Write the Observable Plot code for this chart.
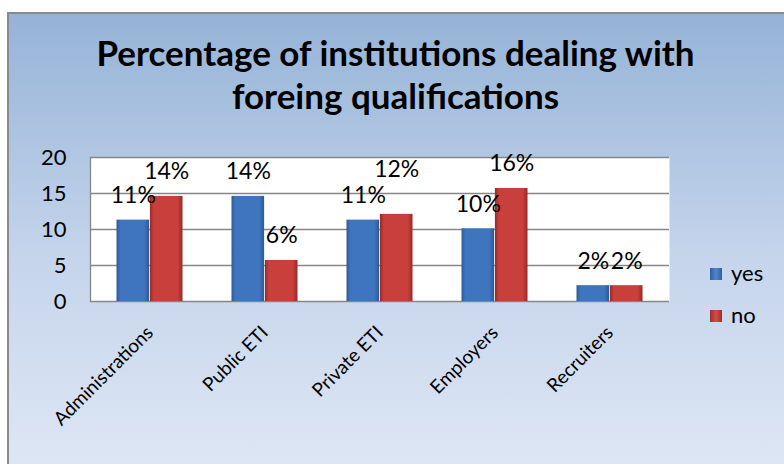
<!DOCTYPE html>
<html>
<head>
<meta charset="utf-8">
<script src="https://cdn.jsdelivr.net/npm/d3@7"></script>
<script src="https://cdn.jsdelivr.net/npm/@observablehq/plot@0.6"></script>
<style>
  html, body { margin: 0; padding: 0; width: 784px; height: 464px; overflow: hidden; background: #ffffff; font-family: Lato, "Open Sans", sans-serif; }
  #frame { position: absolute; left: 7px; top: 12px; width: 777px; height: 452px; box-sizing: border-box;
           border-left: 2px solid #8a8a8a; border-top: 2px solid #8a8a8a;
           background: linear-gradient(to bottom, #95b3d7 0%, #c6d5ec 55%, #dde6f4 100%); }
  #title { position: absolute; left: 7px; width: 777px; top: 31px; text-align: center; font-weight: bold;
           font-size: 35px; line-height: 43px; color: #000; }
  #chart { position: absolute; left: 0; top: 118px; }
  .leg { position: absolute; font-size: 22px; color: #000; line-height: 22px; }
  .sw { position: absolute; width: 12px; height: 12px; }
</style>
</head>
<body>
<div id="frame"></div>
<div id="title">Percentage of institutions dealing with<br>foreing qualifications</div>
<div id="chart"></div>
<div class="sw" style="left:710px;top:268px;background:linear-gradient(to right,#2f5f9e,#4f86cf,#2f5f9e);"></div>
<div class="leg" style="left:731px;top:262px;">yes</div>
<div class="sw" style="left:710px;top:310px;background:linear-gradient(to right,#9e2d2a,#d24e4a,#9e2d2a);"></div>
<div class="leg" style="left:731px;top:304px;">no</div>
<script>
const categories = ["Administrations", "Public ETI", "Private ETI", "Employers", "Recruiters"];
const yesValues = [11.3, 14.6, 11.3, 10.1, 2.2];
const noValues  = [14.6, 5.7, 12.1, 15.7, 2.2];
const yesLabels = ["11%", "14%", "11%", "10%", "2%"];
const noLabels  = ["14%", "6%", "12%", "16%", "2%"];
const yTicks = [0, 5, 10, 15, 20];

const yesData = categories.map((c, i) => ({cat: c, v: yesValues[i], label: yesLabels[i]}));
const noData  = categories.map((c, i) => ({cat: c, v: noValues[i], label: noLabels[i]}));
// a "no" label whose bar is almost as tall as the "yes" bar is lifted (as in the original) to avoid overlap
const clash = (d, i) => d.v > yesValues[i] && d.v - yesValues[i] < 2;
const noNormal = noData.filter((d, i) => !clash(d, i));
const noLifted = noData.filter((d, i) => clash(d, i));

const W = 784, H = 346;
const mL = 90, mR = 115, mT = 39, mB = 163;
const band = (W - mL - mR) / categories.length;
const barW = 33.4;
const outer = (band - 2 * barW) / 2;

const chart = Plot.plot({
  width: W, height: H,
  marginLeft: mL, marginRight: mR, marginTop: mT, marginBottom: mB,
  style: {background: "transparent", fontFamily: "Lato, 'Open Sans', sans-serif", color: "#000"},
  x: {domain: categories, padding: 0, label: null},
  y: {domain: [0, 20], label: null},
  marks: [
    Plot.frame({fill: "white", stroke: "none"}),
    Plot.gridY(yTicks, {stroke: "#868686", strokeOpacity: 1, strokeWidth: 1.3}),
    Plot.frame({anchor: "left", stroke: "#868686", strokeWidth: 1.3}),
    Plot.barY(yesData, {x: "cat", y: "v", fill: "url(#gYes)", insetLeft: outer, insetRight: outer + barW}),
    Plot.barY(noData, {x: "cat", y: "v", fill: "url(#gNo)", insetLeft: outer + barW, insetRight: outer}),
    Plot.text(yesData, {x: "cat", y: "v", text: "label", dx: -barW / 2, dy: -17, lineAnchor: "bottom", fontSize: 23, fill: "#000"}),
    Plot.text(noNormal, {x: "cat", y: "v", text: "label", dx: barW / 2, dy: -17, lineAnchor: "bottom", fontSize: 23, fill: "#000"}),
    Plot.text(noLifted, {x: "cat", y: "v", text: "label", dx: barW / 2, dy: -37, lineAnchor: "bottom", fontSize: 23, fill: "#000"}),
    Plot.axisY({ticks: yTicks, tickSize: 0, tickPadding: 24, fontSize: 22, label: null}),
    Plot.axisX({tickSize: 0, tickPadding: 28, tickRotate: -45, fontSize: 19, label: null})
  ]
});

const svg = d3.select(chart);
const defs = svg.insert("defs", ":first-child");
function grad(id, edge, mid) {
  const g = defs.append("linearGradient").attr("id", id).attr("x1", "0").attr("x2", "1").attr("y1", "0").attr("y2", "0");
  g.append("stop").attr("offset", "0%").attr("stop-color", edge);
  g.append("stop").attr("offset", "12%").attr("stop-color", mid);
  g.append("stop").attr("offset", "85%").attr("stop-color", mid);
  g.append("stop").attr("offset", "100%").attr("stop-color", edge);
}
grad("gYes", "#2c5a96", "#3f75bf");
grad("gNo", "#962a28", "#c93f3c");
document.getElementById("chart").appendChild(chart);
</script>
</body>
</html>
